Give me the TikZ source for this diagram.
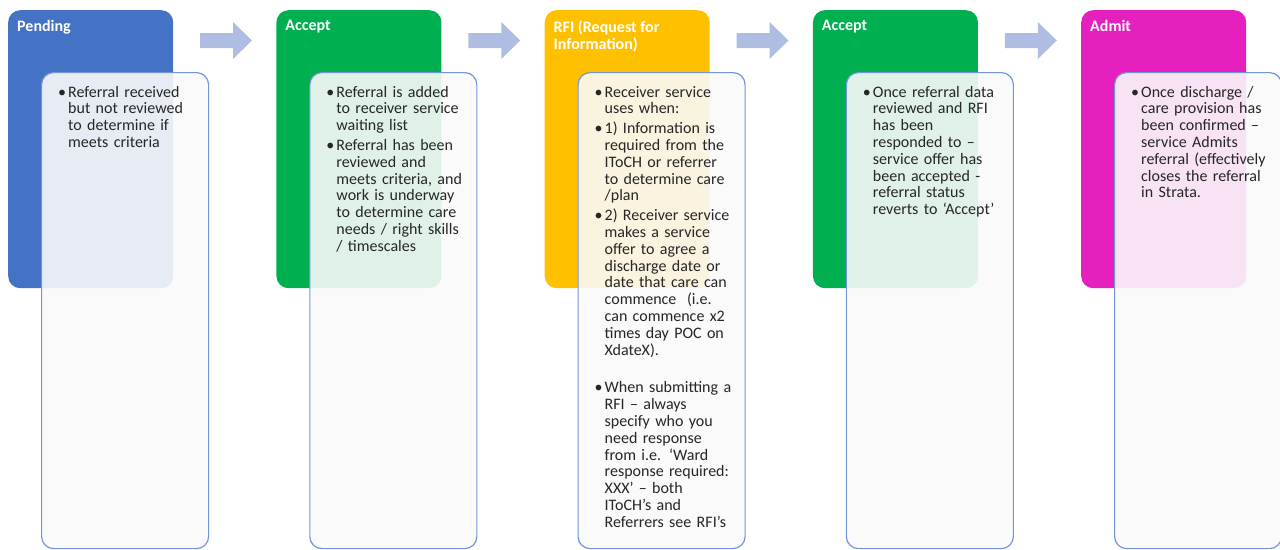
\documentclass[tikz,border=0pt]{standalone}
\usepackage{fontspec}
\setmainfont{Carlito}
\usetikzlibrary{positioning}

\definecolor{pendblue}{HTML}{4472C4}
\definecolor{accgreen}{HTML}{00B050}
\definecolor{rfigold}{HTML}{FFC000}
\definecolor{admitpink}{HTML}{E620BE}
\definecolor{arrowfill}{HTML}{AFBDE2}
\definecolor{bodyline}{HTML}{7396D8}
\definecolor{bodyfill}{HTML}{F9F9F9}
\definecolor{bodyink}{HTML}{262626}

% one bullet with hand-set line breaks
\newcommand\bitem[1]{\par\vskip2pt\noindent\makebox[10pt][l]{\textbullet}\parbox[t]{150pt}{\raggedright\strut #1\strut}}

\begin{document}
\begin{tikzpicture}[x=1pt, y=-1pt,
    headbox/.style={rounded corners=12pt, minimum width=165pt, minimum height=278pt, anchor=north west, inner sep=0pt},
    bodybox/.style={draw=bodyline, line width=1.2pt, fill=bodyfill, fill opacity=0.9, rounded corners=12pt, minimum width=167pt, minimum height=476pt, anchor=north west},
    headtext/.style={font=\fontsize{16}{17}\selectfont\bfseries, text=white, align=left, inner sep=0pt},
    bodytext/.style={text width=160pt, inner sep=0pt, text=bodyink, font=\fontsize{16}{16.8}\selectfont},
    flowarrow/.style={fill=arrowfill}
]
    \useasboundingbox (0,0) rectangle (1280,549);

    % coloured stage boxes with the white cards on top
    \foreach \i/\hcol/\ttl in {1/pendblue/Pending, 2/accgreen/Accept, 3/rfigold/{RFI (Request for\\Information)}, 4/accgreen/Accept, 5/admitpink/Admit} {
        \node[headbox, fill=\hcol] (head\i) at ({8+268.25*(\i-1)}, 10) {};
        \node[headtext, below right=10pt and 9pt of head\i.north west] (title\i) {\ttl};
        \node[bodybox] (body\i) at ({41+268.25*(\i-1)}, 72) {};
    }

    % block arrows between stages
    \foreach \k in {1,...,4} {
        \fill[flowarrow] ({200+268.25*(\k-1)}, 33) -- ++(33,0) -- ++(0,-11) -- ++(19,18.5) -- ++(-19,18.5) -- ++(0,-11) -- ++(-33,0) -- cycle;
    }

    % card texts
    \node[bodytext, below right=6pt and 17pt of body1.north west] (text1) {%
        \bitem{Referral received\\but not reviewed\\to determine if\\meets criteria}};
    \node[bodytext, below right=6pt and 17pt of body2.north west] (text2) {%
        \bitem{Referral is added\\to receiver service\\waiting list}
        \bitem{Referral has been\\reviewed and\\meets criteria, and\\work is underway\\to determine care\\needs / right skills\\/ timescales}};
    \node[bodytext, below right=6pt and 17pt of body3.north west] (text3) {%
        \bitem{Receiver service\\uses when:}
        \bitem{1) Information is\\required from the\\IToCH or referrer\\to determine care\\/plan}
        \bitem{2) Receiver service\\makes a service\\offer to agree a\\discharge date or\\date that care can\\commence \ (i.e.\\can commence x2\\times day POC on\\XdateX).}
        \par\vspace{18pt}
        \bitem{When submitting a\\RFI – always\\specify who you\\need response\\from i.e. ‘Ward\\response required:\\XXX’ – both\\IToCH’s and\\Referrers see RFI’s}};
    \node[bodytext, below right=6pt and 17pt of body4.north west] (text4) {%
        \bitem{Once referral data\\reviewed and RFI\\has been\\responded to –\\service offer has\\been accepted -\\referral status\\reverts to ‘Accept’}};
    \node[bodytext, below right=6pt and 17pt of body5.north west] (text5) {%
        \bitem{Once discharge /\\care provision has\\been confirmed –\\service Admits\\referral (effectively\\closes the referral\\in Strata.}};
\end{tikzpicture}
\end{document}
